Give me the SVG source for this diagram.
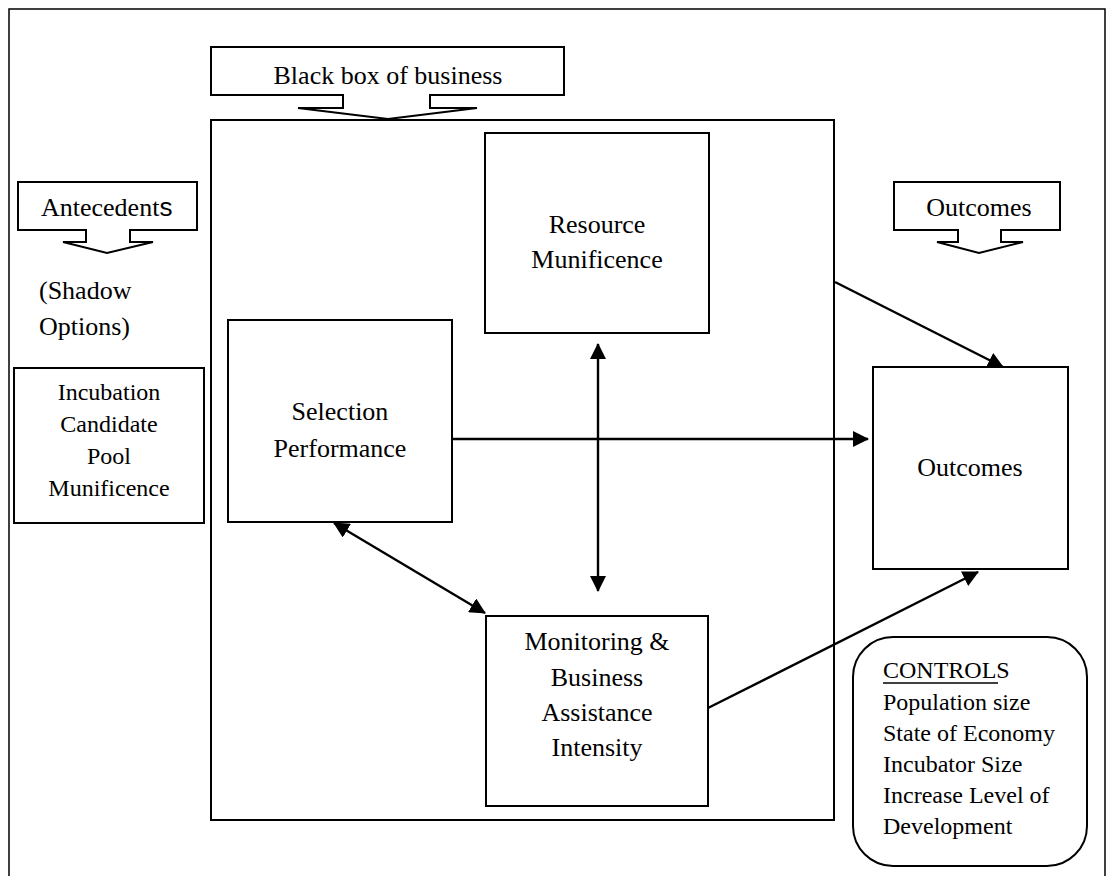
<svg xmlns="http://www.w3.org/2000/svg" width="1115" height="876" viewBox="0 0 1115 876">
  <style>
    .box { fill: #fff; stroke: #000; stroke-width: 2; }
    .frame { fill: none; stroke: #000; stroke-width: 1.5; }
    .lbl { font-family: "Liberation Serif", "Times New Roman", serif; font-size: 26px; fill: #000; }
    .sm { font-family: "Liberation Serif", "Times New Roman", serif; font-size: 24px; fill: #000; }
    .mid { text-anchor: middle; }
    .conn { fill: none; stroke: #000; stroke-width: 2.4; }
  </style>
  <defs>
    <marker id="head" markerUnits="userSpaceOnUse" viewBox="0 0 16 16" refX="15" refY="8" markerWidth="16" markerHeight="16" orient="auto-start-reverse">
      <path d="M0,0 L16,8 L0,16 Z" fill="#000"/>
    </marker>
  </defs>

  <!-- outer frame -->
  <rect class="frame" x="9" y="9" width="1096" height="880"/>

  <!-- callout: Black box of business -->
  <g id="callout-blackbox">
    <path class="box" d="M211,47 H564 V95 H430 V108 H477 L388,119 L298,108 H343 V95 H211 Z"/>
    <text class="lbl mid" x="388" y="84">Black box of business</text>
  </g>

  <!-- black box container -->
  <g id="blackbox">
    <rect class="box" x="211" y="120" width="623" height="700"/>
  </g>

  <!-- callout: Antecedents -->
  <g id="callout-antecedents">
    <path class="box" d="M18,182 H197 V230 H130 V242 H153 L107,253 L63,242 H86 V230 H18 Z"/>
    <text class="lbl" x="41" y="216">Antecedent<tspan font-family="Liberation Sans, Arial, sans-serif">s</tspan></text>
  </g>

  <g id="shadow-options">
    <text class="lbl" x="39" y="299">(Shadow</text>
    <text class="lbl" x="39" y="335">Options)</text>
  </g>

  <g id="incubation">
    <rect class="box" x="14" y="368" width="190" height="155"/>
    <text class="sm mid" x="109" y="400">Incubation</text>
    <text class="sm mid" x="109" y="432">Candidate</text>
    <text class="sm mid" x="109" y="464">Pool</text>
    <text class="sm mid" x="109" y="496">Munificence</text>
  </g>

  <!-- callout: Outcomes -->
  <g id="callout-outcomes">
    <path class="box" d="M894,182 H1060 V230 H1001 V242 H1023 L979,253 L937,242 H958 V230 H894 Z"/>
    <text class="lbl mid" x="979" y="216">Outcomes</text>
  </g>

  <g id="resource">
    <rect class="box" x="485" y="133" width="224" height="200"/>
    <text class="lbl mid" x="597" y="233">Resource</text>
    <text class="lbl mid" x="597" y="268">Munificence</text>
  </g>

  <g id="selection">
    <rect class="box" x="228" y="320" width="224" height="202"/>
    <text class="lbl mid" x="340" y="420">Selection</text>
    <text class="lbl mid" x="340" y="457">Performance</text>
  </g>

  <g id="monitoring">
    <rect class="box" x="486" y="616" width="222" height="190"/>
    <text class="lbl mid" x="597" y="650">Monitoring &amp;</text>
    <text class="lbl mid" x="597" y="686">Business</text>
    <text class="lbl mid" x="597" y="721">Assistance</text>
    <text class="lbl mid" x="597" y="756">Intensity</text>
  </g>

  <g id="outcomes">
    <rect class="box" x="873" y="367" width="195" height="202"/>
    <text class="lbl mid" x="970" y="476">Outcomes</text>
  </g>

  <g id="controls">
    <rect class="box" x="853" y="637" width="234" height="229" rx="40" ry="40"/>
    <text class="sm" x="883" y="678">CONTROLS</text>
    <line x1="883" y1="683" x2="998" y2="683" stroke="#000" stroke-width="1.5"/>
    <text class="sm" x="883" y="710">Population size</text>
    <text class="sm" x="883" y="741">State of Economy</text>
    <text class="sm" x="883" y="772">Incubator Size</text>
    <text class="sm" x="883" y="803">Increase Level of</text>
    <text class="sm" x="883" y="834">Development</text>
  </g>

  <!-- connectors -->
  <g id="connectors">
    <line class="conn" x1="598" y1="344" x2="598" y2="591" marker-start="url(#head)" marker-end="url(#head)"/>
    <line class="conn" x1="452" y1="439" x2="868" y2="439" marker-end="url(#head)"/>
    <line class="conn" x1="835" y1="282" x2="1003" y2="367" marker-end="url(#head)"/>
    <line class="conn" x1="708" y1="708" x2="978" y2="572" marker-end="url(#head)"/>
    <line class="conn" x1="334" y1="523" x2="485" y2="613" marker-start="url(#head)" marker-end="url(#head)"/>
  </g>
</svg>
